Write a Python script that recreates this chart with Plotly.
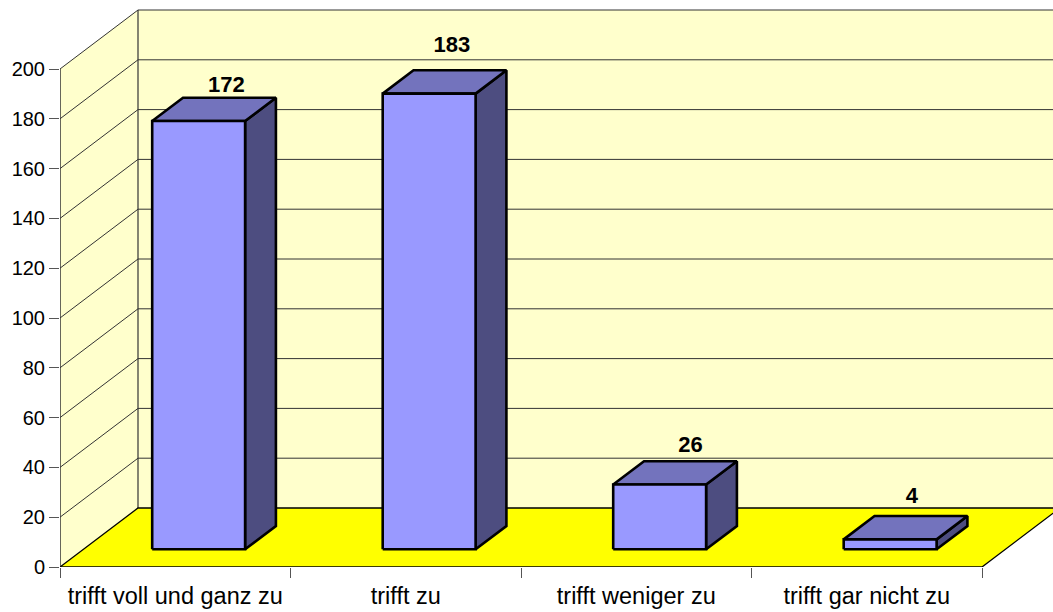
import plotly.graph_objects as go

categories = ["trifft voll und ganz zu", "trifft zu", "trifft weniger zu", "trifft gar nicht zu"]
values = [172, 183, 26, 4]
y_ticks = [0, 20, 40, 60, 80, 100, 120, 140, 160, 180, 200]

# Page geometry of the oblique projection (pixels)
W, H = 1053, 612
LEFT, BOTTOM = 60, 45
SLOT_PX = 230.5
UNIT_PX = 2.49
DEPTH_X, DEPTH_Y = 78, 59
BAR_WIDTH = 0.403
NEAR, FAR = 0.3, 0.695
LABEL_NUDGE = [(-3, 11), (-8, 24), (0, 15), (-9, 19)]

dx = DEPTH_X / SLOT_PX
dy = DEPTH_Y / UNIT_PX
n = len(categories)
ymax = y_ticks[-1]
xr = [0, (W - LEFT) / SLOT_PX]
yr = [0, (H - BOTTOM) / UNIT_PX]


def poly(pts, color, lw=0, lc="#000000"):
    return go.Scatter(
        x=[p[0] for p in pts] + [pts[0][0]],
        y=[p[1] for p in pts] + [pts[0][1]],
        mode="lines", fill="toself", fillcolor=color,
        line=dict(color=lc, width=lw), hoverinfo="skip", showlegend=False,
    )


def line(pts, color="#000000", lw=1):
    return go.Scatter(
        x=[p[0] for p in pts], y=[p[1] for p in pts], mode="lines",
        line=dict(color=color, width=lw), hoverinfo="skip", showlegend=False,
    )


fig = go.Figure()
WALL, FLOOR = "#FFFFCC", "#FFFF00"
# walls and floor
fig.add_trace(poly([(0, 0), (dx, dy), (dx, ymax + dy), (0, ymax)], WALL))
fig.add_trace(poly([(dx, dy), (n + dx, dy), (n + dx, ymax + dy), (dx, ymax + dy)], WALL))
fig.add_trace(poly([(0, 0), (n, 0), (n + dx, dy), (dx, dy)], FLOOR))
# gridlines
for t in y_ticks[1:]:
    fig.add_trace(line([(0, t), (dx, t + dy), (n + dx, t + dy)], "#333333", 1))
fig.add_trace(line([(0, 0), (0, ymax)], "#333333", 1.5))
fig.add_trace(line([(dx, ymax + dy), (dx, dy)], "#333333", 1.2))
fig.add_trace(line([(0, 0), (dx, dy), (n + dx, dy)], "#000000", 1.3))
fig.add_trace(line([(0, 0), (n, 0), (n + dx, dy)], "#000000", 1.3))

# bars
FRONT, TOP, SIDE = "#9999FF", "#7373BD", "#4D4D80"
for i, v in enumerate(values):
    x0 = i + 0.5 - BAR_WIDTH / 2
    x1 = i + 0.5 + BAR_WIDTH / 2
    zn, zf = NEAR, FAR
    a = (x0 + zn * dx, zn * dy)
    b = (x1 + zn * dx, zn * dy)
    c = (x1 + zf * dx, zf * dy)
    fig.add_trace(poly([b, c, (c[0], c[1] + v), (b[0], b[1] + v)], SIDE, 2.6))
    fig.add_trace(poly([(a[0], a[1] + v), (b[0], b[1] + v), (c[0], c[1] + v),
                        (x0 + zf * dx, zf * dy + v)], TOP, 2.6))
    fig.add_trace(poly([a, b, (b[0], b[1] + v), (a[0], a[1] + v)], FRONT, 2.6))
    nx, ny = LABEL_NUDGE[i]
    fig.add_trace(go.Scatter(
        x=[i + 0.5 + (zf * dx) + nx / SLOT_PX], y=[zf * dy + v + ny / UNIT_PX],
        mode="text", text=[str(v)], textposition="middle center",
        textfont=dict(family="Liberation Sans", size=22, color="#000000"),
        texttemplate="<b>%{text}</b>", hoverinfo="skip", showlegend=False,
    ))

# secondary axis only carries the category labels
fig.add_trace(go.Scatter(x=[0], y=[0], xaxis="x2", mode="markers",
                         marker=dict(opacity=0), hoverinfo="skip", showlegend=False))

font = dict(family="Liberation Sans", size=20, color="#000000")
cat_font = dict(family="Liberation Sans", size=23.5, color="#000000")
fig.update_layout(
    width=W, height=H, autosize=False,
    paper_bgcolor="#FFFFFF", plot_bgcolor="#FFFFFF", showlegend=False,
    margin=dict(l=LEFT, r=0, t=0, b=BOTTOM, pad=0),
    xaxis=dict(range=xr, tickmode="array", tickvals=list(range(n + 1)),
               ticktext=[""] * (n + 1), ticks="outside", ticklen=10, tickwidth=1,
               tickcolor="#555555", showgrid=False, zeroline=False, showline=False),
    xaxis2=dict(range=xr, overlaying="x", side="bottom", tickmode="array",
                tickvals=[i + 0.5 for i in range(n)], ticktext=categories, ticks="",
                ticklabelstandoff=12, tickfont=cat_font, showgrid=False, zeroline=False,
                showline=False),
    yaxis=dict(range=yr, tickmode="array", tickvals=y_ticks, ticks="outside", ticklen=10,
               tickwidth=1, tickcolor="#555555", tickfont=font, ticklabelstandoff=0,
               showgrid=False, zeroline=False, showline=False),
)
fig.write_html("out.html", config={"displayModeBar": False},
               post_script="document.body.style.margin='0';document.documentElement.style.margin='0';")
